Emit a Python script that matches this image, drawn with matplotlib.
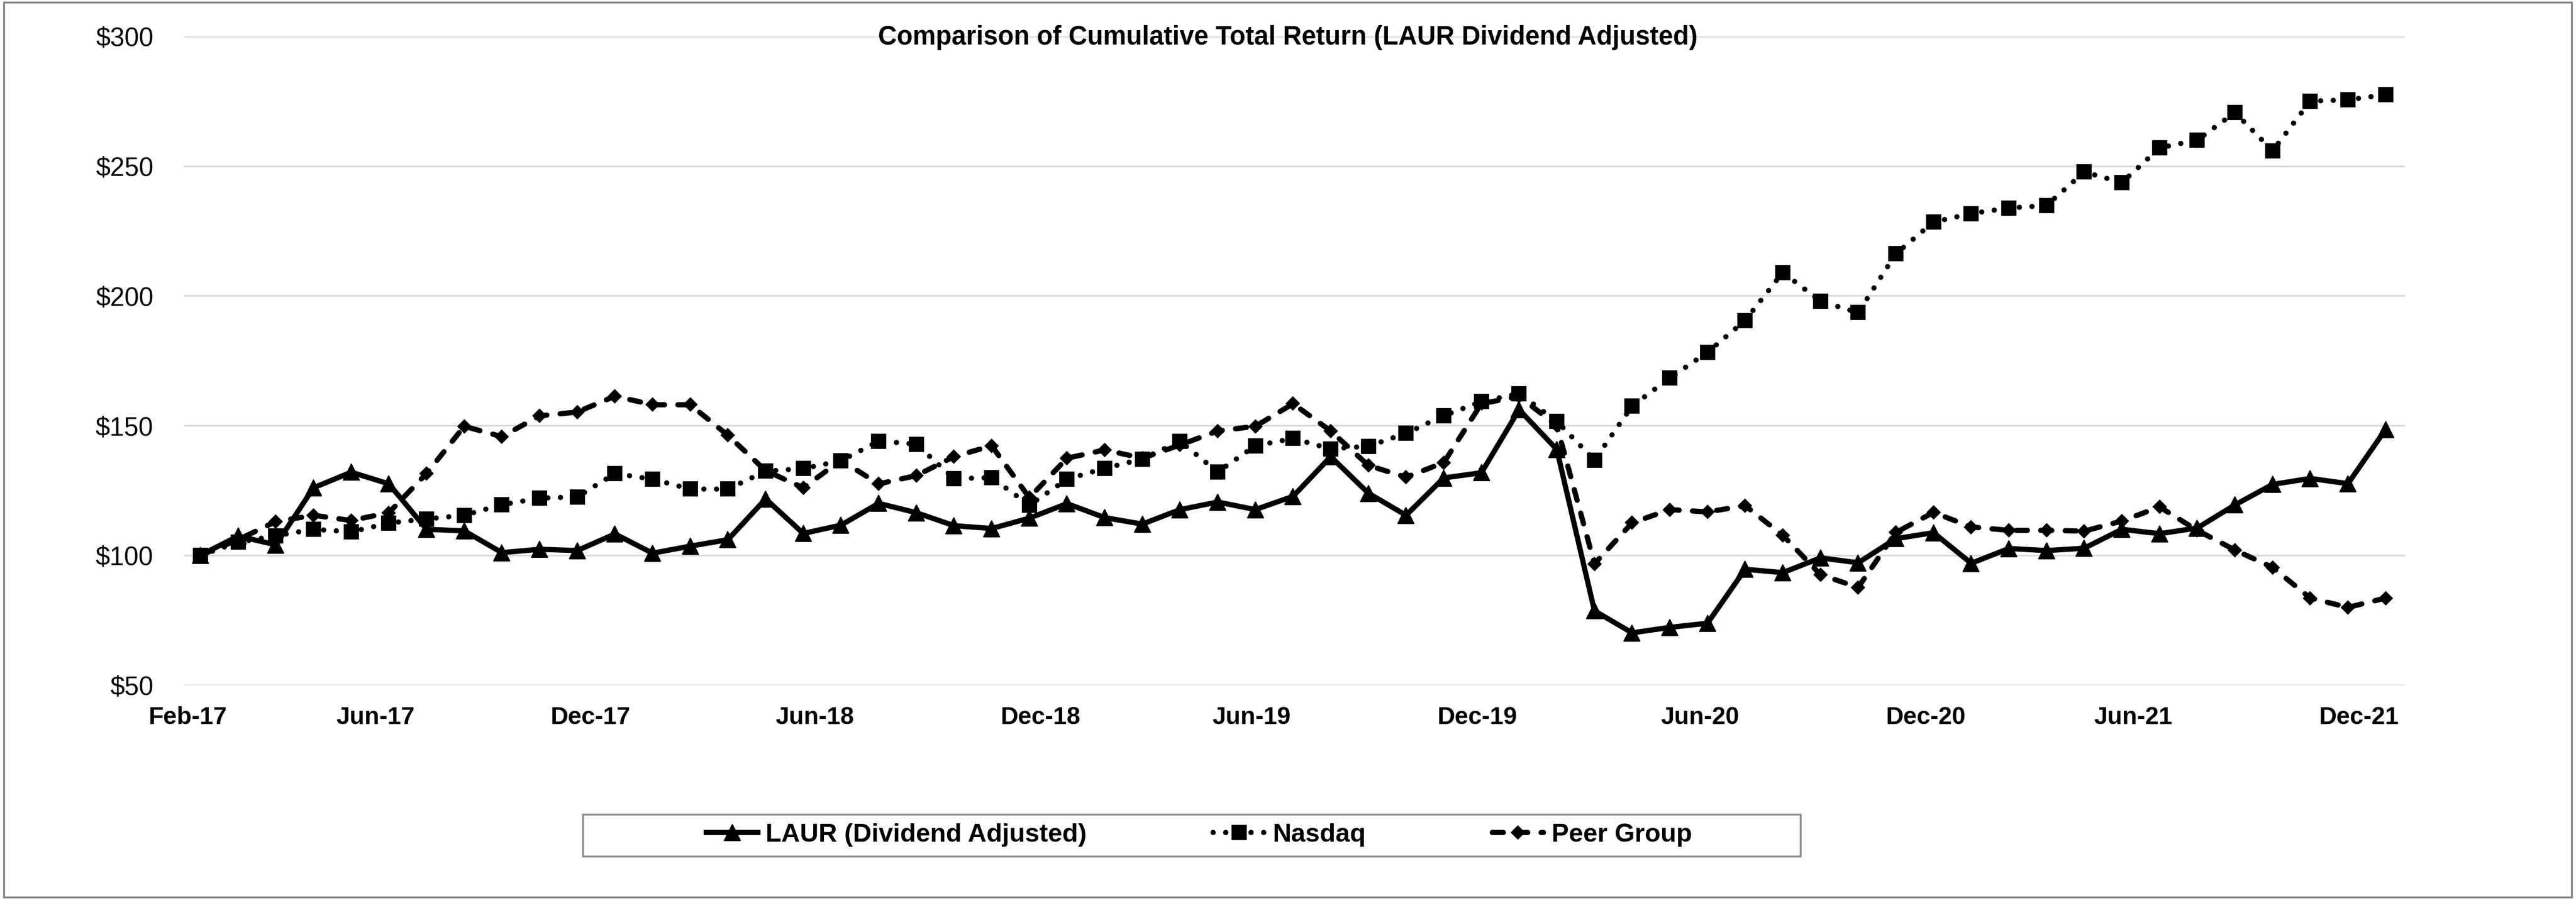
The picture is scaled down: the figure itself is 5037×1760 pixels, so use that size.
import matplotlib
matplotlib.use("Agg")
import matplotlib.pyplot as plt
from matplotlib.patches import Rectangle

# monthly values, Feb-17 .. Dec-21 (59 months)
laur = [100, 107.4, 104, 126, 132, 127.5, 110, 109.4, 101, 102.3,
        101.8, 108.2, 100.8, 103.5, 106, 121.7, 108.4, 111.6, 120, 116.4,
        111.4, 110.3, 114.3, 119.9, 114.5, 112, 117.6, 120.5, 117.6, 122.7,
        138, 123.9, 115.4, 129.8, 131.8, 156.1, 140.8, 78.6, 70.1, 72.2,
        73.8, 94.6, 93.3, 99, 97.1, 106.4, 108.7, 96.9, 102.6, 101.8,
        102.7, 110, 108.3, 110.5, 119.4, 127.3, 129.6, 127.6, 148.5]
nasdaq = [100, 105, 107.5, 110, 109, 112.4, 114, 115.4, 119.5, 122,
          122.5, 131.5, 129.3, 125.5, 125.5, 132.4, 133.4, 136.4, 144, 142.8,
          129.5, 129.9, 119.3, 129.3, 133.5, 137.1, 143.9, 132.1, 142.2, 145,
          141, 142, 147, 153.8, 159.2, 162.3, 151.6, 136.7, 157.5, 168.3,
          178.2, 190.5, 209, 197.9, 193.5, 216.2, 228.4, 231.7, 233.8, 234.8,
          247.7, 243.6, 257, 260, 270.6, 255.9, 275, 275.5, 277.5]
peer = [100, 106, 113, 115.4, 113.4, 116.4, 131.5, 149.7, 145.7, 153.7,
        155.2, 161.3, 158, 158, 146.2, 132.6, 126, 136.6, 127.5, 130.7,
        138, 142.2, 122.2, 137.4, 140.6, 137.4, 142.5, 147.9, 149.7, 158.4,
        147.9, 134.6, 130.1, 135.7, 158.4, 161.2, 150, 96.7, 112.5, 117.6,
        116.7, 119.1, 107.7, 92.5, 87.6, 108.8, 116.5, 110.9, 109.6, 109.6,
        109.3, 113.2, 118.6, 109.6, 102, 95.3, 83.5, 79.9, 83.5]

tick_labels = ["Feb-17", "Jun-17", "Dec-17", "Jun-18", "Dec-18", "Jun-19",
               "Dec-19", "Jun-20", "Dec-20", "Jun-21", "Dec-21"]
y_ticks = [50, 100, 150, 200, 250, 300]

plt.rcParams['font.family'] = ['Liberation Sans', 'DejaVu Sans']

dpi = 321.24
fig = plt.figure(figsize=(5037 / dpi, 1760 / dpi), dpi=dpi)
ax = fig.add_axes([0.0714, 0.2389, 0.8623, 0.7208])

x = list(range(len(laur)))
lw = 2.3
ax.plot(x, laur, color="black", lw=lw, marker="^", ms=7.2, mew=0.4,
        label="LAUR (Dividend Adjusted)", zorder=4)
ax.plot(x, nasdaq, color="black", lw=lw, marker="s", ms=6.4, mew=0.4,
        dashes=(0.01, 2.4), dash_capstyle="round",
        label="Nasdaq", zorder=3)
ax.plot(x, peer, color="black", lw=lw, marker="D", ms=4.2, mew=0.4,
        dashes=(2.1, 2.55), dash_capstyle="round",
        label="Peer Group", zorder=3)

ax.set_xlim(-0.44, 58.52)
ax.set_ylim(50, 300)
ax.set_yticks(y_ticks)
ax.set_yticklabels(["$%d" % v for v in y_ticks], fontsize=11.4)
# label spots as they sit in the source chart (month index units)
tick_pos = [-0.33, 4.65, 10.36, 16.3, 22.3, 27.9, 33.9, 39.8, 45.8, 51.3, 57.3]
ax.set_xticks(tick_pos)
ax.set_xticklabels(tick_labels, fontsize=10.7, fontweight="bold")
ax.tick_params(axis="y", length=0, pad=13.4)
ax.tick_params(axis="x", length=0, pad=9.4)
ax.grid(axis="y", color="#d9d9d9", lw=0.75)
ax.set_axisbelow(True)
for s in ax.spines.values():
    s.set_visible(False)

fig.text(0.5, 1 - 27 / 548, "Comparison of Cumulative Total Return (LAUR Dividend Adjusted)",
         ha="center", va="baseline", fontsize=11.4, fontweight="bold")

leg = fig.legend(loc="center", bbox_to_anchor=(0.4655, 1 - 508.5 / 548), ncol=3,
                 frameon=False, numpoints=1, handlelength=2.0, handletextpad=0.3,
                 columnspacing=4.9, prop={"size": 11.3, "weight": "bold"})

fig.patches.append(Rectangle((355 / 1568, 1 - 521.5 / 548), 741 / 1568, 25.5 / 548,
                             transform=fig.transFigure, fill=False,
                             ec="#8c8c8c", lw=0.8))
fig.patches.append(Rectangle((0.0015, 0.003), 0.997, 0.994, transform=fig.transFigure,
                             fill=False, ec="#7f7f7f", lw=0.8))

fig.savefig("out.png", dpi=dpi, facecolor="white")
